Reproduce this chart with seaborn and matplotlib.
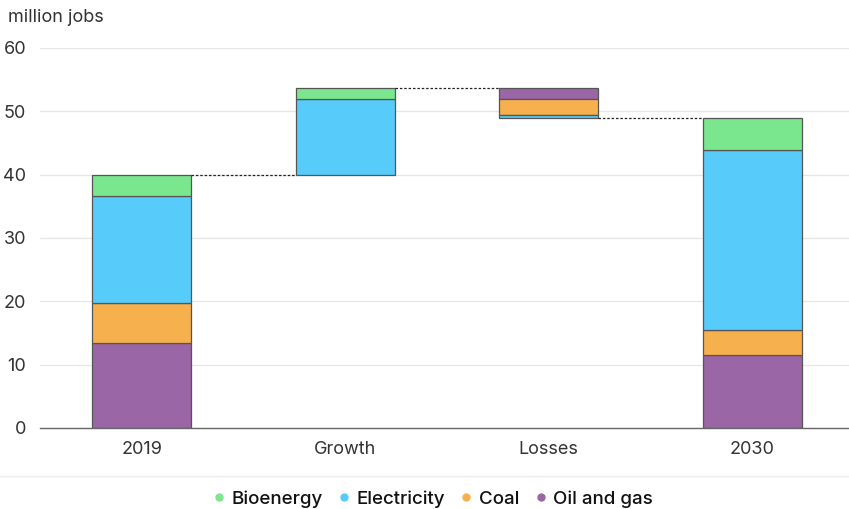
import seaborn as sns
import pandas as pd
import matplotlib.pyplot as plt
from matplotlib.lines import Line2D

# data (million jobs)
categories = ['2019', 'Growth', 'Losses', '2030']
oil_gas = [13.4, 0.0, 1.8, 11.5]
coal = [6.3, 0.0, 2.5, 4.0]
electricity = [16.9, 12.0, 0.5, 28.4]
bioenergy = [3.4, 1.7, 0.0, 5.0]

series_names = ['Oil and gas', 'Coal', 'Electricity', 'Bioenergy']
series_values = [oil_gas, coal, electricity, bioenergy]
colors = {'Bioenergy': '#7ae78e', 'Electricity': '#57cbf9',
          'Coal': '#f7b04e', 'Oil and gas': '#9b66a6'}

sns.set_theme(style='white')
plt.rcParams['font.family'] = ['Inter', 'DejaVu Sans']
text_col = '#333333'

# waterfall bases: totals start from 0, growth starts on 2019 total,
# losses hang down from the growth top
totals = [sum(v[i] for v in series_values) for i in range(len(categories))]
base = [0.0, totals[0], totals[0] + totals[1] - totals[2], 0.0]

rows = []
for i, cat in enumerate(categories):
    order = range(len(series_names))
    if cat == 'Losses':
        order = reversed(range(len(series_names)))  # oil on top, electricity bottom
    b = base[i]
    for j in order:
        h = series_values[j][i]
        if h > 0:
            rows.append({'cat': cat, 'series': series_names[j], 'height': h, 'bottom': b})
            b += h
df = pd.DataFrame(rows)

fig = plt.figure(figsize=(8.49, 5.09), dpi=100)
ax = fig.add_axes([40 / 849, 81 / 509, 814 / 849, 380 / 509])

for name in series_names:
    sub = df[df['series'] == name]
    sns.barplot(data=sub, x='cat', y='height', order=categories, bottom=sub['bottom'].values,
                color=colors[name], saturation=1, width=0.485, errorbar=None,
                edgecolor='#555555', linewidth=0.9, ax=ax, zorder=3)

# dotted connectors between bars
half = 0.485 / 2
levels = [totals[0], totals[0] + totals[1], base[2]]
for k, lev in enumerate(levels):
    ax.plot([k + half, k + 1 - half], [lev, lev], color='#222222', lw=0.9,
            ls=(0, (2, 1.5)), zorder=4)

ax.set_xlim(-0.5, 3.5)
ax.set_ylim(0, 60)
ax.set_yticks(range(0, 61, 10))
ax.yaxis.grid(True, color='#e6e6e6', lw=0.9, zorder=0)
ax.set_axisbelow(True)
ax.set_xlabel('')
ax.set_ylabel('')
for s in ['top', 'right', 'left']:
    ax.spines[s].set_visible(False)
ax.spines['bottom'].set_color('#666666')
ax.spines['bottom'].set_linewidth(1.0)
ax.spines['bottom'].set_zorder(5)

ax.set_xticks(range(len(categories)))
ax.set_xticklabels(categories)
ax.set_xticks([-0.5, 0.5, 1.5, 2.5], minor=True)
ax.tick_params(axis='x', which='major', length=0, pad=9, labelsize=13, labelcolor=text_col)
ax.tick_params(axis='x', which='minor', length=7, width=1, color='#666666', direction='out')
ax.tick_params(axis='y', length=0, pad=10, labelsize=13, labelcolor=text_col)

fig.text(8 / 849, 1 - 18 / 509, 'million jobs', fontsize=13, color=text_col, va='center', ha='left')

# faint separator above legend
fig.add_artist(Line2D([0, 1], [1 - 476 / 509] * 2, color='#eeeeee', lw=1))

handles = [Line2D([], [], marker='o', ls='', markersize=5, color=colors[n])
           for n in ['Bioenergy', 'Electricity', 'Coal', 'Oil and gas']]
fig.legend(handles, ['Bioenergy', 'Electricity', 'Coal', 'Oil and gas'],
           loc='center', bbox_to_anchor=(0.51, 1 - 499 / 509), ncol=4, frameon=False,
           handlelength=0.6, handletextpad=0.35, columnspacing=0.85,
           prop={'size': 13.5, 'weight': 'medium'}, labelcolor='#111111')

fig.savefig('out.png', dpi=100)
